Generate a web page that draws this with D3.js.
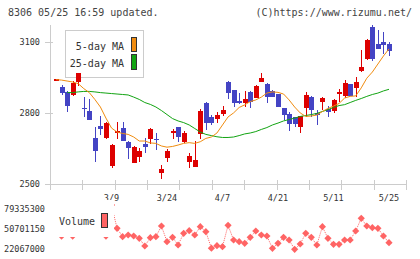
<!DOCTYPE html>
<html>
<head>
<meta charset="utf-8">
<script src="https://cdn.jsdelivr.net/npm/d3@7"></script>
<style>
body { margin: 0; background: #fff; }
svg text { font-family: "DejaVu Sans Mono", monospace; }
</style>
</head>
<body>
<div id="chart"></div>
<script>
// trading days shown on the chart
var dates = ["2/22","2/24","2/25","2/28","3/1","3/2","3/3","3/4","3/7","3/8",
    "3/9","3/10","3/11","3/14","3/15","3/16","3/17","3/18","3/22","3/23",
    "3/24","3/25","3/28","3/29","3/30","3/31","4/1","4/4","4/5","4/6",
    "4/7","4/8","4/11","4/12","4/13","4/14","4/15","4/18","4/19","4/20",
    "4/21","4/22","4/25","4/26","4/27","4/28","5/2","5/6","5/9","5/10",
    "5/11","5/12","5/13","5/16","5/17","5/18","5/19","5/20","5/23","5/24","5/25"];

var openP = [2942,2912,2891,2877,2932,2822,2810,2695,2746,2696,
    2576,2715,2738,2679,2590,2616,2669,2691,2691,2548,
    2610,2717,2740,2678,2594,2571,2712,2844,2782,2775,
    2796,2933,2898,2853,2844,2890,2865,2933,2923,2895,
    2881,2821,2796,2782,2743,2821,2870,2799,2846,2818,
    2809,2882,2874,2923,2908,2978,3029,3164,3093,3101,3093];
var highP = [2945,2918,2893,2936,2971,2870,2860,2743,2788,2762,
    2668,2761,2764,2680,2662,2652,2694,2736,2717,2580,
    2647,2733,2743,2724,2630,2682,2816,2849,2792,2806,
    2830,2937,2900,2887,2894,2892,2919,2969,2926,2900,
    2883,2823,2806,2785,2790,2890,2872,2813,2868,2832,
    2858,2902,2940,2925,2952,3067,3114,3173,3152,3142,3100];
var lowP = [2941,2878,2805,2873,2915,2785,2771,2594,2708,2691,
    2569,2689,2680,2605,2588,2593,2633,2669,2644,2520,
    2594,2691,2677,2672,2569,2570,2689,2729,2750,2760,
    2788,2860,2827,2839,2827,2823,2863,2931,2844,2868,
    2825,2771,2726,2743,2715,2785,2785,2750,2813,2785,
    2799,2846,2863,2872,2870,2973,3025,3022,3070,3049,3043];
var closeP = [2944,2887,2832,2929,2971,2820,2771,2641,2734,2760,
    2665,2723,2682,2654,2658,2641,2658,2733,2685,2565,
    2641,2726,2698,2715,2620,2602,2810,2760,2760,2792,
    2813,2884,2842,2842,2860,2849,2915,2948,2870,2870,
    2827,2792,2754,2754,2789,2877,2813,2793,2863,2806,
    2856,2890,2926,2874,2932,2997,3110,3029,3070,3090,3063];

// moving averages
var ma5 = [2942,2940,2936,2932,2925,2904,2887,2858,2826,2779,
    2737,2720,2714,2710,2699,2682,2682,2674,2672,2661,
    2656,2659,2665,2672,2675,2672,2679,2693,2699,2716,
    2750,2784,2801,2824,2835,2849,2856,2868,2885,2890,
    2888,2881,2856,2826,2801,2786,2788,2792,2807,2820,
    2830,2841,2864,2871,2873,2907,2948,2974,3008,3042,3072];
var ma25 = [null,null,2887,2887,2890,2892,2892,2890,2887,2885,
    2883,2881,2879,2877,2868,2858,2845,2837,2826,2811,
    2794,2777,2767,2760,2750,2735,2720,2710,2705,2700,
    2697,2697,2699,2705,2712,2716,2722,2731,2739,2750,
    2758,2767,2773,2779,2786,2790,2794,2799,2807,2815,
    2824,2832,2836,2845,2854,2862,2871,2879,2885,2894,2901];

var volume = [48800000,40200000,51700000,40200000,60300000,54600000,50300000,63200000,54600000,40200000,
    84600000,51270000,39250000,41680000,40250000,36960000,25930000,37820000,39250000,54570000,
    32090000,38390000,27360000,44120000,47840000,41680000,53570000,46410000,22780000,26360000,
    24930000,55570000,34520000,32090000,29800000,38390000,47410000,41680000,40250000,22640000,
    29800000,38390000,34520000,21210000,28800000,44120000,38390000,27360000,53570000,36960000,
    28370000,28370000,34520000,34520000,47410000,65590000,54570000,52130000,51270000,40250000,30660000];

var priceTicks = [2500, 2800, 3100];
var volumeTicks = [22067000, 50701150, 79335300];
var dateLabels = ["3/9", "3/24", "4/7", "4/21", "5/11", "5/25"];

var width = 420, height = 259;
var plotLeft = 50, plotRight = 406, plotTop = 25, plotBottom = 184;
var upColor = "#dd0000", downColor = "#4444c4";
var ma5Color = "#f08c10", ma25Color = "#12a412", volColor = "#ff6464";

var svg = d3.select("#chart").append("svg")
    .attr("width", width)
    .attr("height", height);

var x = d3.scalePoint().domain(dates).range([56, 389]);
var y = d3.scaleLinear().domain([2500, 3100]).range([plotBottom, 42.3]);
var yv = d3.scaleLinear().domain([22067000, 79335300]).range([248.7, 208.7]);

// header
svg.append("text").attr("x", 8).attr("y", 16)
    .style("font-size", "10px").attr("fill", "#444")
    .text("8306 05/25 16:59 updated.");
svg.append("text").attr("x", 412).attr("y", 16)
    .attr("text-anchor", "end")
    .style("font-size", "10px").attr("fill", "#444")
    .text("(C)https://www.rizumu.net/");

// axes
var axisG = svg.append("g").attr("stroke", "#cccccc").attr("shape-rendering", "crispEdges");
axisG.append("line")
    .attr("x1", plotLeft + 0.5).attr("x2", plotLeft + 0.5)
    .attr("y1", plotTop).attr("y2", 190);
axisG.append("line")
    .attr("x1", plotLeft).attr("x2", plotRight)
    .attr("y1", plotBottom + 0.5).attr("y2", plotBottom + 0.5);
axisG.selectAll(".xtick")
    .data(d3.range(12))
    .enter().append("line")
    .attr("x1", d => Math.round(plotLeft + d * (plotRight - plotLeft) / 11) + 0.5)
    .attr("x2", d => Math.round(plotLeft + d * (plotRight - plotLeft) / 11) + 0.5)
    .attr("y1", 180).attr("y2", 190);
axisG.selectAll(".ytick")
    .data(priceTicks)
    .enter().append("line")
    .attr("x1", 45).attr("x2", 53)
    .attr("y1", d => Math.round(y(d)) + 0.5)
    .attr("y2", d => Math.round(y(d)) + 0.5);

svg.selectAll(".ylabel")
    .data(priceTicks)
    .enter().append("text")
    .attr("x", 40).attr("y", d => y(d))
    .attr("dy", "0.35em")
    .attr("text-anchor", "end")
    .style("font-size", "8.5px").attr("fill", "#333")
    .text(d => d);

svg.selectAll(".xlabel")
    .data(dateLabels)
    .enter().append("text")
    .attr("x", d => x(d)).attr("y", 201)
    .attr("text-anchor", "middle")
    .style("font-size", "8.5px").attr("fill", "#333")
    .text(d => d);

// price legend (drawn under the candles)
var leg = svg.append("g").attr("shape-rendering", "crispEdges");
leg.append("rect").attr("x", 65.5).attr("y", 30.5).attr("width", 78).attr("height", 47)
    .attr("fill", "#fff").attr("stroke", "#cccccc");
leg.append("text").attr("x", 124).attr("y", 50).attr("text-anchor", "end")
    .style("font-size", "10px").attr("fill", "#333").text("5-day MA");
leg.append("text").attr("x", 124).attr("y", 66.5).attr("text-anchor", "end")
    .style("font-size", "10px").attr("fill", "#333").text("25-day MA");
leg.append("rect").attr("x", 131.5).attr("y", 37.5).attr("width", 5).attr("height", 14)
    .attr("fill", ma5Color).attr("stroke", "#333");
leg.append("rect").attr("x", 131.5).attr("y", 54.5).attr("width", 5).attr("height", 15)
    .attr("fill", ma25Color).attr("stroke", "#333");

// candles
var candles = svg.append("g").attr("shape-rendering", "crispEdges")
    .selectAll("g")
    .data(dates)
    .enter().append("g")
    .attr("fill", (d, i) => closeP[i] >= openP[i] ? upColor : downColor)
    .attr("stroke", (d, i) => closeP[i] >= openP[i] ? upColor : downColor);

candles.append("line")
    .attr("x1", d => Math.round(x(d)) + 0.5)
    .attr("x2", d => Math.round(x(d)) + 0.5)
    .attr("y1", (d, i) => y(highP[i]))
    .attr("y2", (d, i) => y(lowP[i]));

candles.append("rect")
    .attr("stroke", "none")
    .attr("x", d => Math.round(x(d)) - 2)
    .attr("width", 5)
    .attr("y", (d, i) => y(Math.max(openP[i], closeP[i])))
    .attr("height", (d, i) => Math.max(1.5, Math.abs(y(openP[i]) - y(closeP[i]))));

// moving averages
function maLine(values) {
    return d3.line()
        .defined((d, i) => values[i] != null)
        .x(d => x(d))
        .y((d, i) => y(values[i]));
}
svg.append("path").datum(dates)
    .attr("fill", "none").attr("stroke", ma25Color).attr("stroke-width", 1)
    .attr("d", maLine(ma25));
svg.append("path").datum(dates)
    .attr("fill", "none").attr("stroke", ma5Color).attr("stroke-width", 1)
    .attr("d", maLine(ma5));

// volume
svg.append("path").datum(dates)
    .attr("fill", "none").attr("stroke", volColor).attr("stroke-width", 1)
    .attr("stroke-dasharray", "1,1")
    .attr("d", d3.line().x(d => x(d)).y((d, i) => yv(volume[i])));

svg.selectAll(".vpoint")
    .data(dates)
    .enter().append("path")
    .attr("transform", (d, i) => "translate(" + x(d) + "," + yv(volume[i]) + ")")
    .attr("d", "M0,-3.6L3.6,0L0,3.6L-3.6,0Z")
    .attr("fill", volColor);

// volume legend covers the start of the series
var vleg = svg.append("g").attr("shape-rendering", "crispEdges");
vleg.append("rect").attr("x", plotLeft).attr("y", 200).attr("width", 64).attr("height", 36.5)
    .attr("fill", "#fff");
vleg.append("text").attr("x", 59).attr("y", 225)
    .style("font-size", "10px").attr("fill", "#333").text("Volume");
vleg.append("rect").attr("x", 101.5).attr("y", 213.5).attr("width", 6).attr("height", 14)
    .attr("fill", volColor).attr("stroke", "#333");

svg.selectAll(".vlabel")
    .data(volumeTicks)
    .enter().append("text")
    .attr("x", 45).attr("y", d => yv(d))
    .attr("dy", "0.35em")
    .attr("text-anchor", "end")
    .style("font-size", "8.5px").attr("fill", "#333")
    .text(d => d);
</script>
</body>
</html>
